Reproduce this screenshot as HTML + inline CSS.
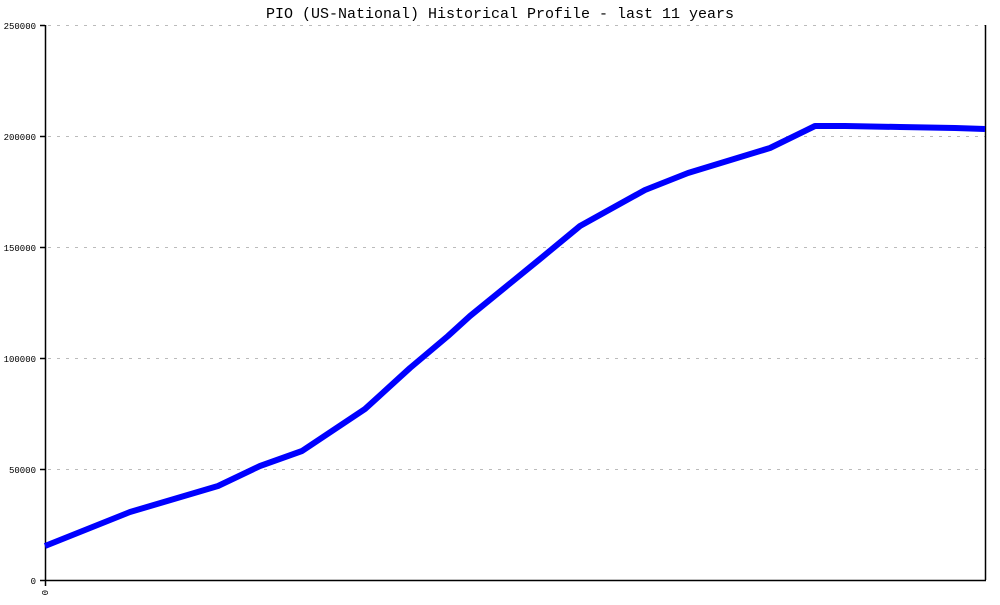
<!DOCTYPE html>
<html><head><style>body{margin:0;background:#fff}</style></head><body>
<svg width="1000" height="600" xmlns="http://www.w3.org/2000/svg" font-family="Liberation Mono, monospace">
<rect width="1000" height="600" fill="#fff"/>
<text x="500" y="18" text-anchor="middle" font-size="15">PIO (US-National) Historical Profile - last 11 years</text>
<g stroke="#bbb" stroke-dasharray="3,6" stroke-width="1">
<line x1="48" y1="25.5" x2="985" y2="25.5"/>
<line x1="48" y1="136.5" x2="985" y2="136.5"/>
<line x1="48" y1="247.5" x2="985" y2="247.5"/>
<line x1="48" y1="358.5" x2="985" y2="358.5"/>
<line x1="48" y1="469.5" x2="985" y2="469.5"/>
</g>
<g stroke="#000" stroke-width="1.5">
<line x1="45.5" y1="25" x2="45.5" y2="586"/>
<line x1="985.5" y1="25" x2="985.5" y2="580"/>
<line x1="40" y1="580.5" x2="986" y2="580.5"/>
<line x1="40" y1="25.5" x2="45" y2="25.5"/>
<line x1="40" y1="136.5" x2="45" y2="136.5"/>
<line x1="40" y1="247.5" x2="45" y2="247.5"/>
<line x1="40" y1="358.5" x2="45" y2="358.5"/>
<line x1="40" y1="469.5" x2="45" y2="469.5"/>
</g>
<g font-size="9" text-anchor="end">
<text x="36" y="29">250000</text>
<text x="36" y="140">200000</text>
<text x="36" y="251">150000</text>
<text x="36" y="362">100000</text>
<text x="36" y="473">50000</text>
<text x="36" y="584">0</text>
</g>
<text x="0" y="0" font-size="9" transform="translate(48,590) rotate(-90)" text-anchor="end">0</text>
<polyline fill="none" stroke="#0000ff" stroke-width="6" stroke-linejoin="round" points="45,546 130,512 218,486 260,466 302,451 365,409 410,368 448,336 470,316 540,259 580,226 645,190 688,173 770,148 815,126 845,126 900,127 955,128 985,129"/>
</svg>
</body></html>
